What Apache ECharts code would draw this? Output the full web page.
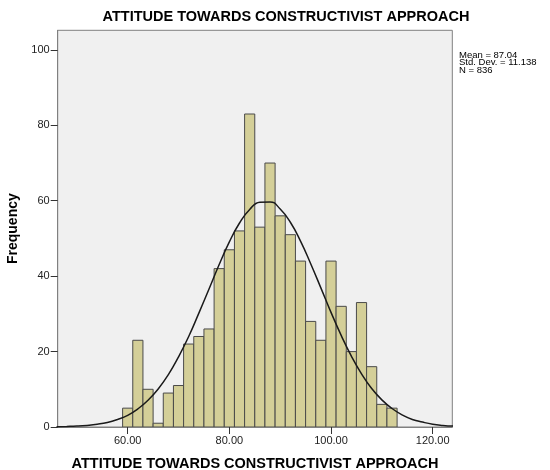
<!DOCTYPE html>
<html>
<head>
<meta charset="utf-8">
<script src="https://cdn.jsdelivr.net/npm/echarts@6/dist/echarts.min.js"></script>
<style>
html,body{margin:0;padding:0;background:#fff;}
#chart{width:550px;height:470px;}
</style>
</head>
<body>
<div id="chart"></div>
<script>
// ---- data ----
const chartTitle = 'ATTITUDE TOWARDS CONSTRUCTIVIST APPROACH';
const xAxisTitle = 'ATTITUDE TOWARDS CONSTRUCTIVIST APPROACH';
const yAxisTitle = 'Frequency';
const binWidth = 2;
const binCenters = [60, 62, 64, 66, 68, 70, 72, 74, 76, 78, 80, 82, 84, 86, 88, 90, 92, 94, 96, 98, 100, 102, 104, 106, 108, 110, 112];
const frequencies = [5, 23, 10, 1, 9, 11, 22, 24, 26, 42, 47, 52, 83, 53, 70, 56, 51, 44, 28, 23, 44, 32, 20, 33, 16, 6, 5];
const curveX = [46, 48, 50, 52, 54, 56, 58, 60, 62, 64, 66, 68, 70, 72, 74, 76, 78, 80, 82, 84, 86, 88, 90, 92, 94, 96, 98, 100, 102, 104, 106, 108, 110, 112, 114, 116, 118, 120, 122, 124];
const curveY = [0.07, 0.14, 0.24, 0.43, 0.73, 1.2, 2.0, 3.1, 4.8, 7.1, 10.1, 13.9, 18.6, 24.0, 30.2, 36.6, 43.1, 49.1, 54.1, 57.7, 59.6, 59.7, 57.8, 54.3, 49.3, 43.3, 36.9, 30.4, 24.3, 18.8, 14.1, 10.2, 7.2, 4.9, 3.2, 2.0, 1.3, 0.75, 0.43, 0.24];
const xTicks = [60, 80, 100, 120];
const xTickLabels = ['60.00', '80.00', '100.00', '120.00'];
const yTicks = [0, 20, 40, 60, 80, 100];
const statsLines = ['Mean = 87.04', 'Std. Dev. = 11.138', 'N = 836'];

// ---- chart ----
const FONT = '"Liberation Sans", Arial, sans-serif';
const chart = echarts.init(document.getElementById('chart'), null, {renderer: 'canvas'});

const barData = binCenters.map((c, i) => [c, frequencies[i]]);
const curveData = curveX.map((x, i) => [x, curveY[i]]);

const option = {
  animation: false,
  backgroundColor: '#ffffff',
  grid: {
    left: 57.7, top: 30.3, right: 97.7, bottom: 43,
    show: true, backgroundColor: '#f0f0f0', borderColor: '#808080', borderWidth: 1,
    containLabel: false, outerBoundsMode: 'none'
  },
  graphic: [
    {
      type: 'text', x: 286, y: 17,
      style: {text: chartTitle, font: 'bold 14.5px ' + FONT, fill: '#000', align: 'center', verticalAlign: 'middle'}
    },
    {
      type: 'text', x: 459, y: 52,
      style: {text: statsLines.join('\n'), font: '9.5px ' + FONT, lineHeight: 7.2, fill: '#000', align: 'left', verticalAlign: 'top'}
    }
  ],
  xAxis: {
    type: 'value', min: 46.23, max: 123.86,
    name: xAxisTitle, nameLocation: 'middle', nameGap: 29,
    nameTextStyle: {fontFamily: FONT, fontWeight: 'bold', fontSize: 14.5, color: '#000'},
    axisLine: {show: true, lineStyle: {color: '#808080', width: 1}},
    axisTick: {show: true, length: 7, customValues: xTicks, lineStyle: {color: '#333', width: 1}},
    axisLabel: {
      customValues: xTicks, margin: 8, fontFamily: FONT, fontSize: 11, color: '#222',
      formatter: v => xTickLabels[xTicks.indexOf(v)]
    },
    splitLine: {show: false}
  },
  yAxis: {
    type: 'value', min: 0, max: 105.2,
    name: yAxisTitle, nameLocation: 'middle', nameGap: 33, nameRotate: 90,
    nameTextStyle: {fontFamily: FONT, fontWeight: 'bold', fontSize: 14, color: '#000'},
    axisLine: {show: true, lineStyle: {color: '#808080', width: 1}},
    axisTick: {show: true, length: 7, customValues: yTicks, lineStyle: {color: '#333', width: 1}},
    axisLabel: {customValues: yTicks, margin: 8, fontFamily: FONT, fontSize: 11, color: '#222'},
    splitLine: {show: false}
  },
  series: [
    {
      type: 'custom',
      data: barData,
      clip: true,
      z: 2,
      renderItem: function (params, api) {
        const c = api.value(0), v = api.value(1);
        const p0 = api.coord([c - binWidth / 2, v]);
        const p1 = api.coord([c + binWidth / 2, 0]);
        return {
          type: 'rect',
          shape: {x: p0[0], y: p0[1], width: p1[0] - p0[0], height: p1[1] - p0[1]},
          style: {fill: '#d4cf98', stroke: '#4a4a4a', lineWidth: 1}
        };
      }
    },
    {
      type: 'line',
      data: curveData,
      smooth: true,
      showSymbol: false,
      clip: true,
      z: 3,
      lineStyle: {color: '#1a1a1a', width: 1.5}
    }
  ]
};
chart.setOption(option);
</script>
</body>
</html>
